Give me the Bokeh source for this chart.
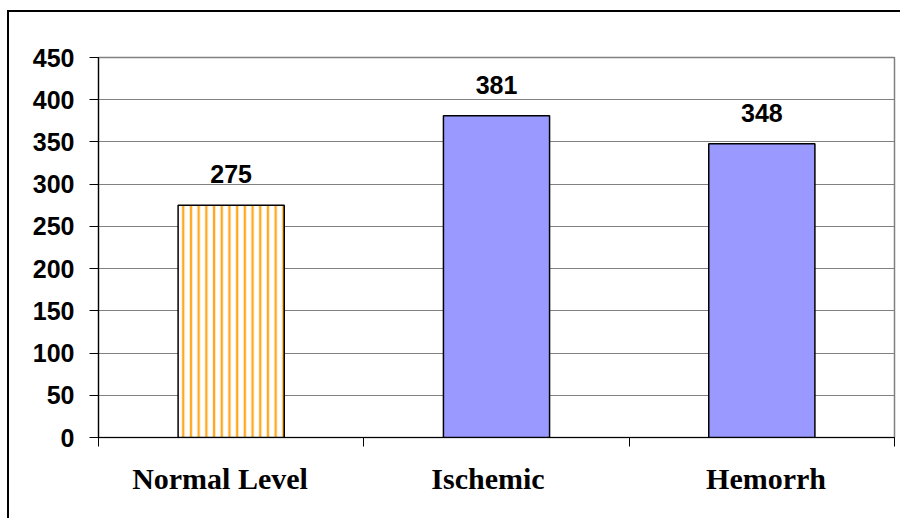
from bokeh.plotting import figure
from bokeh.models import Range1d, FixedTicker, ColumnDataSource
from bokeh.core.properties import value
from bokeh.embed import file_html
from bokeh.resources import INLINE

categories = ["Normal Level", "Ischemic", "Hemorrh"]
values = [275, 381, 348]
y_ticks = [0, 50, 100, 150, 200, 250, 300, 350, 400, 450]

xpos = [i + 0.5 for i in range(len(categories))]
labels = [str(v) for v in values]

# small horizontal nudges of the category labels (layout tuning)
label_nudge = [-0.042, -0.032, 0.016]
label_pos = [x + d for x, d in zip(xpos, label_nudge)]

p = figure(width=893, height=508, output_backend="svg", toolbar_location=None,
           x_range=Range1d(0, len(categories)), y_range=Range1d(0, 450),
           min_border_left=89, min_border_right=8, min_border_top=45, min_border_bottom=83)
p.styles = {"border-left": "2px solid black", "border-top": "2px solid black",
            "margin-left": "7px", "margin-top": "10px"}
p.background_fill_color = "white"
p.border_fill_color = "white"
p.outline_line_color = "#808080"
p.outline_line_width = 1.5

# hatched first bar
src1 = ColumnDataSource(dict(x=xpos[:1], top=values[:1]))
p.vbar(x="x", top="top", bottom=0, width=0.4, source=src1, fill_color="white",
       hatch_pattern="|", hatch_color="#FFA820", hatch_scale=7.7, hatch_weight=2.4,
       line_color="black", line_width=1.5)
src2 = ColumnDataSource(dict(x=xpos[1:], top=values[1:]))
p.vbar(x="x", top="top", bottom=0, width=0.4, source=src2, fill_color="#9999FF",
       line_color="black", line_width=1.5)

srcl = ColumnDataSource(dict(x=xpos, y=values, t=labels))
p.text(x="x", y="y", text="t", source=srcl, text_align="center", text_baseline="alphabetic",
       y_offset=-31, text_font=value("Liberation Sans"), text_font_style="bold",
       text_font_size="25px", text_color="black")

# axes
p.xgrid.visible = False
p.ygrid.grid_line_color = "#808080"
p.ygrid.grid_line_width = 1.2
p.ygrid.ticker = FixedTicker(ticks=y_ticks)

ya = p.yaxis[0]
ya.ticker = FixedTicker(ticks=y_ticks)
ya.axis_line_color = "black"
ya.axis_line_width = 1.2
ya.major_tick_out = 9
ya.major_tick_in = 0
ya.major_tick_line_color = "black"
ya.minor_tick_line_color = None
ya.major_label_standoff = 15
ya.major_label_text_font = "Liberation Sans"
ya.major_label_text_font_style = "bold"
ya.major_label_text_font_size = "25px"
ya.major_label_text_color = "black"

xa = p.xaxis[0]
xa.ticker = FixedTicker(ticks=label_pos, minor_ticks=list(range(len(categories) + 1)))
xa.major_label_overrides = {x: c for x, c in zip(label_pos, categories)}
xa.axis_line_color = "black"
xa.axis_line_width = 1.2
xa.major_tick_out = 0
xa.major_tick_in = 0
xa.minor_tick_out = 9
xa.minor_tick_in = 0
xa.minor_tick_line_color = "black"
xa.major_label_standoff = 15
xa.major_label_text_font = "Liberation Serif"
xa.major_label_text_font_style = "bold"
xa.major_label_text_font_size = "30px"
xa.major_label_text_color = "black"

open("out.html", "w").write(file_html(p, INLINE))
